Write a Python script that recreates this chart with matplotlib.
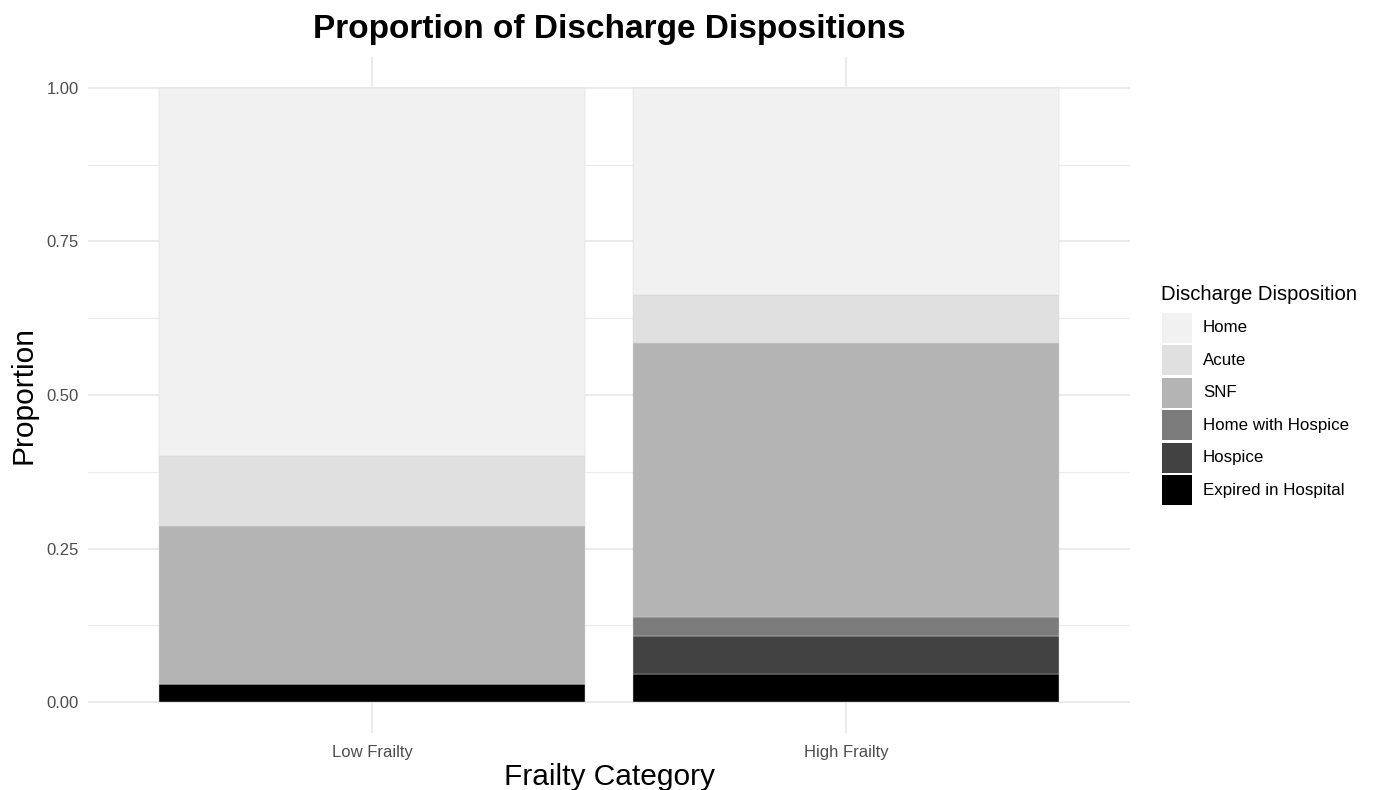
import matplotlib
matplotlib.use('Agg')
import matplotlib.pyplot as plt
from matplotlib.patches import Rectangle
import numpy as np

plt.rcParams['font.family'] = ['Liberation Sans', 'DejaVu Sans']

# data
frailty = ['Low Frailty', 'High Frailty']
dispositions = ['Home', 'Acute', 'SNF', 'Home with Hospice', 'Hospice', 'Expired in Hospital']
home = [0.599, 0.338]
acute = [0.115, 0.077]
snf = [0.257, 0.446]
home_hospice = [0.0, 0.031]
hospice = [0.0, 0.062]
expired = [0.029, 0.046]

colors = {'Home': '#F1F1F1', 'Acute': '#E0E0E0', 'SNF': '#B4B4B4',
          'Home with Hospice': '#7B7B7B', 'Hospice': '#424242',
          'Expired in Hospital': '#000000'}

series = {'Home': home, 'Acute': acute, 'SNF': snf,
          'Home with Hospice': home_hospice, 'Hospice': hospice,
          'Expired in Hospital': expired}

W, H = 1376, 790
fig = plt.figure(figsize=(W / 100, H / 100), dpi=100)
ax = fig.add_axes([0.0642, 0.0722, 0.8212 - 0.0642, 0.9278 - 0.0722])

x = np.arange(1, len(frailty) + 1)
bottom = np.zeros(len(frailty))
# stack from the bottom: last disposition first
for name in dispositions[::-1]:
    vals = np.array(series[name])
    ax.bar(x, vals, width=0.9, bottom=bottom, color=colors[name],
           edgecolor='#d4d4d4', linewidth=0.3, zorder=2)
    bottom += vals

ax.set_xlim(0.4, 2.6)
ax.set_ylim(-0.05, 1.05)
ax.set_xticks(x)
ax.set_xticklabels(frailty)
ax.set_yticks([0, 0.25, 0.5, 0.75, 1.0])
ax.set_yticklabels(['0.00', '0.25', '0.50', '0.75', '1.00'])
ax.set_yticks([0.125, 0.375, 0.625, 0.875], minor=True)

ax.grid(True, which='major', color='#EBEBEB', linewidth=1.5, zorder=0)
ax.grid(True, which='minor', axis='y', color='#EBEBEB', linewidth=0.8, zorder=0)
ax.set_axisbelow(True)
for s in ax.spines.values():
    s.set_visible(False)
ax.tick_params(which='both', length=0)
ax.tick_params(axis='y', pad=7, labelsize=12, labelcolor='#4D4D4D')
ax.tick_params(axis='x', pad=9, labelsize=12, labelcolor='#4D4D4D')

ax.set_xlabel('Frailty Category', fontsize=21.5, labelpad=2)
ax.set_ylabel('Proportion', fontsize=21.5, labelpad=6)
ax.set_title('Proportion of Discharge Dispositions', fontsize=24,
             fontweight='bold', pad=14)

# legend drawn by hand in pixel coordinates (ggplot style keys)
fig.text(1161 / W, 1 - 294 / H, 'Discharge Disposition', fontsize=14.6,
         ha='left', va='center')
for i, name in enumerate(dispositions):
    top = 313 + i * 32.4
    fig.patches.append(Rectangle((1161.5 / W, 1 - (top + 30) / H), 30 / W, 30 / H,
                                 transform=fig.transFigure, facecolor=colors[name],
                                 edgecolor='none'))
    fig.text(1203 / W, 1 - (top + 15) / H, name, fontsize=12.2,
             ha='left', va='center')

fig.savefig('out.png', dpi=100)
